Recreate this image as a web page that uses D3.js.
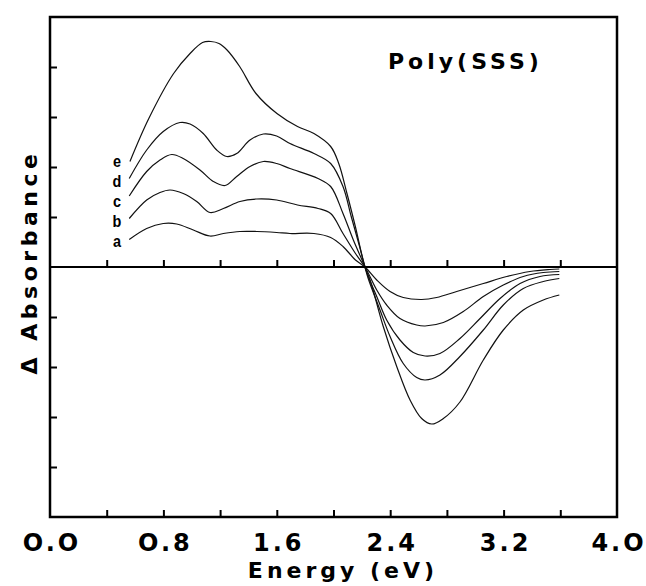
<!DOCTYPE html>
<html><head><meta charset="utf-8">
<script src="https://cdn.jsdelivr.net/npm/d3@7/dist/d3.min.js"></script>
<style>
html,body{margin:0;padding:0;background:#fff;}
svg{display:block;}
</style></head>
<body><svg id="chart" width="646" height="586"></svg>
<script>
// ---- data (Energy in eV, ΔAbsorbance in tick units) ----
const xTickLabels = [0.0, 0.8, 1.6, 2.4, 3.2, 4.0];
const xMinorTicks = [0.4, 0.8, 1.2, 1.6, 2.0, 2.4, 2.8, 3.2, 3.6];
const yTicks = [-4, -3, -2, -1, 1, 2, 3, 4];
const curveLabels = ["e", "d", "c", "b", "a"];

const energyA = [0.559,0.682,0.799,0.894,1.011,1.129,1.223,1.340,1.458,1.599,1.693,1.862,1.980,2.067,2.155,2.222,2.305,2.399,2.492,2.622,2.728,2.869,3.057,3.222,3.386,3.527,3.593];
const absA    = [0.55,0.77,0.87,0.86,0.74,0.62,0.67,0.71,0.71,0.69,0.67,0.67,0.59,0.41,0.14,0,-0.26,-0.49,-0.61,-0.65,-0.61,-0.49,-0.33,-0.19,-0.09,-0.05,-0.04];

const energyB = [0.559,0.682,0.776,0.847,0.940,1.035,1.129,1.223,1.340,1.458,1.599,1.746,1.891,1.980,2.067,2.155,2.222,2.305,2.375,2.469,2.587,2.646,2.775,2.916,3.057,3.198,3.339,3.480,3.593];
const absB    = [0.97,1.34,1.49,1.54,1.47,1.31,1.09,1.17,1.31,1.36,1.34,1.24,1.17,1.07,0.67,0.27,0,-0.46,-0.76,-1.03,-1.16,-1.18,-1.11,-0.89,-0.59,-0.36,-0.19,-0.11,-0.09];

const energyC = [0.559,0.682,0.776,0.859,0.940,1.058,1.152,1.235,1.317,1.411,1.505,1.599,1.693,1.891,1.980,2.067,2.140,2.222,2.245,2.305,2.375,2.469,2.563,2.646,2.751,2.892,3.034,3.175,3.316,3.457,3.593];
const absC    = [1.42,1.91,2.14,2.25,2.17,1.94,1.71,1.63,1.81,2.01,2.11,2.07,1.97,1.77,1.61,1.07,0.54,0,-0.19,-0.59,-1.06,-1.46,-1.71,-1.78,-1.73,-1.43,-1.03,-0.63,-0.33,-0.19,-0.15];

const energyD = [0.559,0.682,0.799,0.917,0.988,1.081,1.176,1.247,1.317,1.411,1.505,1.599,1.693,1.862,1.980,2.067,2.125,2.184,2.222,2.245,2.328,2.399,2.492,2.587,2.646,2.751,2.892,3.057,3.198,3.339,3.480,3.593];
const absD    = [1.77,2.34,2.71,2.89,2.86,2.67,2.34,2.21,2.27,2.54,2.66,2.62,2.47,2.27,2.07,1.61,1.01,0.41,0,-0.23,-0.86,-1.39,-1.93,-2.21,-2.26,-2.16,-1.79,-1.26,-0.76,-0.43,-0.29,-0.23];

const energyE = [0.564,0.697,0.872,0.988,1.076,1.134,1.192,1.249,1.338,1.453,1.601,1.746,1.862,1.980,2.037,2.095,2.154,2.222,2.258,2.351,2.446,2.540,2.622,2.693,2.775,2.892,3.057,3.198,3.339,3.480,3.593];
const absE    = [2.11,2.97,3.87,4.27,4.49,4.51,4.47,4.34,4.01,3.47,3.07,2.81,2.67,2.41,2.07,1.47,0.81,0,-0.26,-1.19,-1.99,-2.66,-3.03,-3.14,-3.03,-2.70,-1.86,-1.26,-0.86,-0.66,-0.56];

// ---- layout ----
const svg = d3.select("#chart");
const L = 50, R = 617, T = 17, B = 517;
const x = d3.scaleLinear().domain([0, 4]).range([L, R]);
const y = d3.scaleLinear().domain([-5, 5]).range([B, T]);

const series = [
  {name: "e", E: energyE, A: absE},
  {name: "d", E: energyD, A: absD},
  {name: "c", E: energyC, A: absC},
  {name: "b", E: energyB, A: absB},
  {name: "a", E: energyA, A: absA}
];

const line = d3.line().x(d => x(d[0])).y(d => y(d[1])).curve(d3.curveCatmullRom.alpha(0.5));
series.forEach(s => {
  svg.append("path")
    .datum(s.E.map((e, i) => [e, s.A[i]]))
    .attr("d", line)
    .attr("fill", "none")
    .attr("stroke", "#111")
    .attr("stroke-width", 1.2);
});

// zero line with upward ticks
const zeroAxis = svg.append("g").attr("transform", `translate(0,${y(0)})`)
  .call(d3.axisTop(x).tickValues(xMinorTicks).tickSize(7).tickFormat(""));
zeroAxis.select(".domain").remove();
zeroAxis.selectAll(".tick line").attr("stroke", "#000").attr("stroke-width", 2);
svg.append("line").attr("x1", L).attr("x2", R).attr("y1", y(0)).attr("y2", y(0))
  .attr("stroke", "#000").attr("stroke-width", 2.2);

// bottom ticks pointing up
const botTicks = svg.append("g").attr("transform", `translate(0,${B})`)
  .call(d3.axisTop(x).tickValues(xMinorTicks).tickSize(7).tickFormat(""));
botTicks.select(".domain").remove();
botTicks.selectAll(".tick line").attr("stroke", "#000").attr("stroke-width", 2);

// bottom tick labels
const botLabels = svg.append("g").attr("transform", `translate(0,${B})`)
  .call(d3.axisBottom(x).tickValues(xTickLabels).tickSize(0).tickPadding(0).tickFormat(d3.format(".1f")));
botLabels.select(".domain").remove();
botLabels.selectAll(".tick text")
  .attr("dy", null).attr("y", 34).attr("dx", "1.5px")
  .attr("font-family", "'DejaVu Sans', sans-serif")
  .attr("font-weight", "bold").attr("font-size", 24)
  .attr("letter-spacing", "3px").attr("fill", "#000")
  .text(d => d3.format(".1f")(d).replace(/0/g, "O"));

// left ticks pointing inward
const leftTicks = svg.append("g").attr("transform", `translate(${L},0)`)
  .call(d3.axisRight(y).tickValues(yTicks).tickSize(7).tickFormat(""));
leftTicks.select(".domain").remove();
leftTicks.selectAll(".tick line").attr("stroke", "#000").attr("stroke-width", 2);

// frame
svg.append("rect").attr("x", L).attr("y", T).attr("width", R - L).attr("height", B - T)
  .attr("fill", "none").attr("stroke", "#000").attr("stroke-width", 2.5);

// title
svg.append("text").attr("x", 388).attr("y", 69)
  .attr("font-family", "'DejaVu Sans', sans-serif").attr("font-weight", "bold")
  .attr("font-size", 22).attr("letter-spacing", "4px").attr("fill", "#000")
  .text("Poly(SSS)");

// axis titles
svg.append("text").attr("x", 343).attr("y", 578).attr("text-anchor", "middle")
  .attr("font-family", "'DejaVu Sans', sans-serif").attr("font-weight", "bold")
  .attr("font-size", 22).attr("letter-spacing", "4px").attr("fill", "#000")
  .text("Energy (eV)");

svg.append("text").attr("transform", "translate(37,262) rotate(-90)").attr("text-anchor", "middle")
  .attr("font-family", "'DejaVu Sans', sans-serif").attr("font-weight", "bold")
  .attr("font-size", 22).attr("letter-spacing", "4.5px").attr("fill", "#000")
  .text("Δ  Absorbance");

// curve letters
const labelBase = [167, 187, 207, 227, 247];
curveLabels.forEach((c, i) => {
  svg.append("text")
    .attr("transform", `translate(117,${labelBase[i]}) scale(0.85,1)`)
    .attr("text-anchor", "middle")
    .attr("font-family", "'Liberation Sans', Arial, sans-serif").attr("font-weight", "bold")
    .attr("font-size", 17).attr("fill", "#000")
    .text(c);
});
</script>
</body></html>
